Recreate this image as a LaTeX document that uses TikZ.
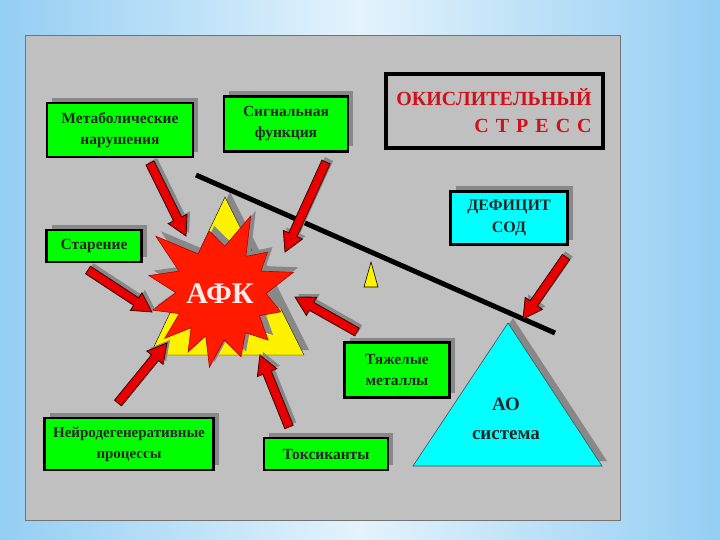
\documentclass[tikz,border=0pt]{standalone}
\usepackage{fontspec}
\setmainfont{Liberation Serif}
\usetikzlibrary{calc, shadows}

\definecolor{panelgray}{HTML}{C0C0C0}
\definecolor{shadowgray}{HTML}{888888}
\definecolor{boxgreen}{HTML}{00FF00}
\definecolor{boxcyan}{HTML}{00FFFF}
\definecolor{afkred}{HTML}{FF1A00}
\definecolor{arrowred}{HTML}{E80000}
\definecolor{stressred}{HTML}{D0101A}
\definecolor{skyblue}{HTML}{94CEF3}
\definecolor{paleblue}{HTML}{E4F3FC}

% block arrow from #1 to #2
\newcommand\redarrow[2]{%
  \coordinate (neck) at ($(#2)!19pt!(#1)$);
  \filldraw[blockarrow] ($(#1)!4.5pt!90:(#2)$) -- ($(neck)!4.5pt!90:(#2)$)
    -- ($(neck)!10.5pt!90:(#2)$) -- (#2) -- ($(neck)!10.5pt!-90:(#2)$)
    -- ($(neck)!4.5pt!-90:(#2)$) -- ($(#1)!4.5pt!-90:(#2)$) -- cycle;}

\begin{document}
\begin{tikzpicture}[x=1pt, y=-1pt,
    shadowed/.style={drop shadow={shadow xshift=5pt, shadow yshift=5pt, fill=shadowgray, opacity=1}},
    box/.style={draw, line width=2.5pt, fill=boxgreen, shadowed, align=center, inner sep=0pt,
      text=black!85, font=\bfseries\fontsize{15.5}{21}\selectfont},
    sodbox/.style={box, fill=boxcyan, font=\bfseries\fontsize{16}{22}\selectfont},
    stressbox/.style={draw, line width=4pt, align=right, inner sep=0pt, text=stressred,
      font=\bfseries\fontsize{20}{27}\selectfont},
    blockarrow/.style={fill=arrowred, draw=black!80!red, line width=0.8pt, line join=miter,
      drop shadow={shadow xshift=3pt, shadow yshift=3pt, fill=shadowgray, opacity=1}}]

  % background and panel
  \shade[left color=skyblue, right color=skyblue, middle color=paleblue] (0,0) rectangle (720,540);
  \useasboundingbox (0,0) rectangle (720,540);
  \filldraw[fill=panelgray, draw=black!55, line width=0.8pt] (25,35) rectangle (620,520);

  % balance
  \filldraw[fill=yellow, shadowed] (225,197) -- (304,355) -- (150,355) -- cycle;
  \filldraw[fill=yellow, line width=0.6pt] (371,262) -- (378,287) -- (364,287) -- cycle;
  \filldraw[fill=boxcyan, draw=black!70, line width=0.6pt, shadowed] (508,323) -- (602,466) -- (413,466) -- cycle;
  \draw[line width=5pt] (196,175) -- (555,333);

  % explosion
  \begin{scope}[shift={(220,292)}]
    \filldraw[fill=afkred, draw=red!70!black, line width=0.6pt, line join=miter, shadowed] (-15:76)
      \foreach \a/\r in {-27/46, -40/62, -54/44, -68/82, -84/46, -100/62, -120/44, -139/85,
        -153/46, -167/73, 179/44, 165/70, 152/46, 140/72, 129/46, 118/68, 108/46, 98/76,
        85/48, 72/68, 58/48, 45/68, 31/46, 18/64, 2/46} { -- (\a:\r) } -- cycle;
  \end{scope}
  \node[text=white!92!red, font=\bfseries\fontsize{30}{30}\selectfont] (afk) at (220,294) {АФК};

  % boxes
  \node[box, minimum width=146, minimum height=54] (meta) at (120,130) {Метаболические\\нарушения};
  \node[box, minimum width=124, minimum height=55] (signal) at (286,124) {Сигнальная\\функция};
  \node[box, minimum width=95, minimum height=32] (aging) at (94,246) {Старение};
  \node[box, minimum width=169, minimum height=52, font=\bfseries\fontsize{15}{21}\selectfont] (neuro) at (129,444) {Нейродегенеративные\\процессы};
  \node[box, minimum width=124, minimum height=32] (toxic) at (326,454) {Токсиканты};
  \node[box, minimum width=105, minimum height=55] (metals) at (397,370) {Тяжелые\\металлы};
  \node[sodbox, minimum width=117, minimum height=53] (sod) at (509,218) {ДЕФИЦИТ\\СОД};
  \node[stressbox, minimum width=217, minimum height=74] (stress) at (494,111)
    {ОКИСЛИТЕЛЬНЫЙ\\С\hspace{7pt}Т\hspace{7pt}Р\hspace{7pt}Е\hspace{7pt}С\hspace{7pt}С};
  \node[text=black!85, align=center, font=\bfseries\fontsize{19}{29}\selectfont] (ao) at (506,419) {АО\\система};

  % arrows
  \coordinate (fromMeta) at (150,163);   \coordinate (toMeta) at (186,236);
  \coordinate (fromSignal) at (326,162); \coordinate (toSignal) at (285,252);
  \coordinate (fromAging) at (88,270);   \coordinate (toAging) at (152,312);
  \coordinate (fromMetals) at (357,332); \coordinate (toMetals) at (295,297);
  \coordinate (fromNeuro) at (118,403);  \coordinate (toNeuro) at (167,343);
  \coordinate (fromToxic) at (289,427);  \coordinate (toToxic) at (260,355);
  \coordinate (fromSod) at (566,257);    \coordinate (toSod) at (523,319);
  \foreach \n in {Meta, Signal, Aging, Metals, Neuro, Toxic, Sod}
    \redarrow{from\n}{to\n};
\end{tikzpicture}
\end{document}
